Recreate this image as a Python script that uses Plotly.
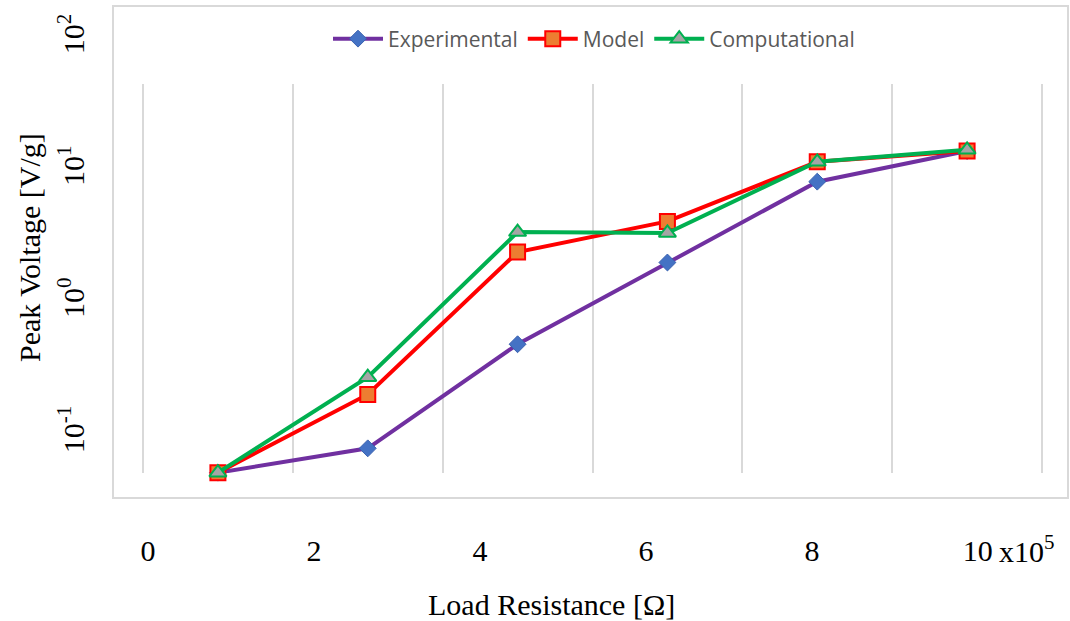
import plotly.graph_objects as go

# ---- data ----
load_points = ["R1", "R2", "R3", "R4", "R5", "R6"]
experimental = [0.051, 0.078, 0.48, 2.0, 8.2, 14.0]
model = [0.051, 0.20, 2.4, 4.1, 11.6, 14.0]
computational = [0.051, 0.27, 3.4, 3.35, 11.6, 14.3]

x_tick_vals = [0, 2, 4, 6, 8, 10]
x_tick_text = ["0", "2", "4", "6", "8", "10"]
y_tick_vals = [0.1, 1, 10, 100]
y_tick_text = ["10<sup>-1</sup>", "10<sup>0</sup>", "10<sup>1</sup>", "10<sup>2</sup>"]

W, H = 1070, 621
serif = "Liberation Serif, Times New Roman, serif"
legend_font = "Open Sans, sans-serif"

fig = go.Figure()

fig.add_trace(go.Scatter(
    x=load_points, y=experimental, name="Experimental", mode="lines+markers",
    line=dict(color="#7030A0", width=4),
    marker=dict(symbol="diamond", size=13, color="#4472C4",
                line=dict(color="#3A62B0", width=1)),
    cliponaxis=False))
fig.add_trace(go.Scatter(
    x=load_points, y=model, name="Model", mode="lines+markers",
    line=dict(color="#FF0000", width=4),
    marker=dict(symbol="square", size=15, color="#ED7D31",
                line=dict(color="#FF0000", width=2)),
    cliponaxis=False))
fig.add_trace(go.Scatter(
    x=load_points, y=computational, name="Computational", mode="lines+markers",
    line=dict(color="#00B050", width=4),
    marker=dict(symbol="triangle-up", size=15, color="#A5A5A5",
                line=dict(color="#00B050", width=2)),
    cliponaxis=False))

# empty trace to register the outer label axes
fig.add_trace(go.Scatter(x=[], y=[], xaxis="x2", yaxis="y2", showlegend=False,
                         hoverinfo="skip"))

fig.update_layout(
    width=W, height=H,
    margin=dict(l=0, r=0, t=0, b=0),
    paper_bgcolor="white",
    plot_bgcolor="rgba(0,0,0,0)",
    showlegend=True,
    legend=dict(orientation="h", x=594 / W, xanchor="center",
                y=1 - 39 / H, yanchor="middle",
                font=dict(family=legend_font, size=21, color="#595959"),
                bgcolor="rgba(0,0,0,0)", itemwidth=50),
    xaxis=dict(type="category", domain=[140 / W, 1045 / W], range=[-0.52, 5.52],
               tickson="boundaries", showgrid=True, gridcolor="#D9D9D9",
               gridwidth=2, showticklabels=False, ticks="", showline=False,
               zeroline=False, fixedrange=True),
    yaxis=dict(type="log", domain=[1 - 473 / H, 1 - 84 / H],
               range=[-1.2949, 1.6543], showgrid=False, showticklabels=False,
               ticks="", showline=False, zeroline=False),
    xaxis2=dict(domain=[0, 1], range=[-1.785, 11.111], anchor="free",
                position=1 - 530 / H, tickmode="array", tickvals=x_tick_vals,
                ticktext=x_tick_text, showgrid=False, zeroline=False,
                showline=False, ticks="",
                tickfont=dict(family=serif, size=30, color="black")),
    yaxis2=dict(type="log", domain=[0, 1], range=[-2.4170, 2.2911],
                anchor="free", position=90 / W, tickmode="array",
                tickvals=y_tick_vals, ticktext=y_tick_text, tickangle=-90,
                showgrid=False, zeroline=False, showline=False, ticks="",
                tickfont=dict(family=serif, size=30, color="black")),
    shapes=[dict(type="rect", xref="paper", yref="paper",
                 x0=113 / W, x1=1068 / W, y0=1 - 498 / H, y1=1 - 6 / H,
                 line=dict(color="#D9D9D9", width=2), layer="below")],
    annotations=[
        dict(text="Peak Voltage [V/g]", xref="paper", yref="paper",
             x=29 / W, y=1 - 248 / H, textangle=-90, showarrow=False,
             xanchor="center", yanchor="middle",
             font=dict(family=serif, size=30, color="black")),
        dict(text="Load Resistance [Ω]", xref="paper", yref="paper",
             x=551 / W, y=1 - 604 / H, showarrow=False,
             xanchor="center", yanchor="middle",
             font=dict(family=serif, size=30, color="black")),
        dict(text="x10<sup>5</sup>", xref="paper", yref="paper",
             x=997 / W, y=1 - 549 / H, showarrow=False,
             xanchor="left", yanchor="middle",
             font=dict(family=serif, size=30, color="black")),
    ],
)

fig.write_html("out.html")
